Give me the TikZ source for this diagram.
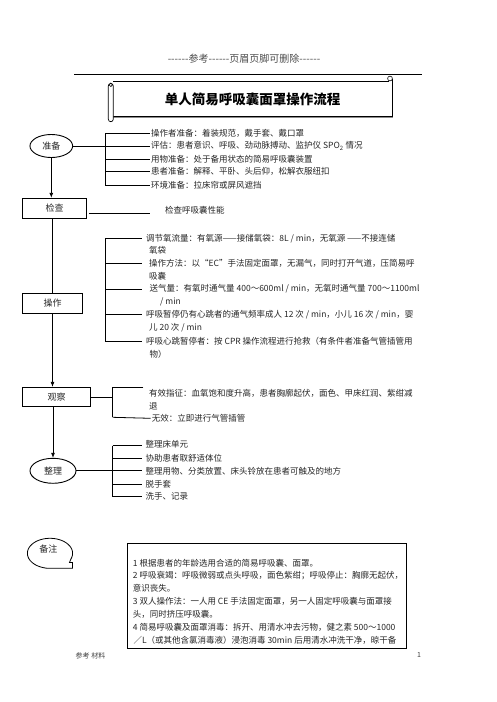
\documentclass[tikz,border=0pt]{standalone}
\usepackage{fontspec}
\newfontfamily\cjk{Noto Sans CJK SC}
\usetikzlibrary{arrows.meta,shapes.geometric}
\tikzset{
  ln/.style={line width=0.8pt, draw=black},
  arr/.style={ln, -{Latex[length=5pt,width=4pt]}},
  txt/.style={font=\cjk\fontsize{8.5}{10}\selectfont, anchor=west, inner xsep=1pt, inner ysep=1pt, text=black!85},
  lbl/.style={font=\cjk\fontsize{9}{10}\selectfont, text=black!85},
  stepbox/.style={draw, line width=0.9pt, lbl, inner sep=0pt},
  oval/.style={ellipse, draw, line width=0.9pt, lbl, inner sep=0pt},
}
\def\hy{\hbox{-}}
\def\hys{\hy\hy\hy\hy\hy\hy}
\begin{document}
\begin{tikzpicture}[x=1pt,y=-1pt]
\useasboundingbox (0,0) rectangle (496,702);
\fill[white] (0,0) rectangle (496,702);

% header
\node[font=\cjk\fontsize{10}{11}\selectfont, text=black!70] (hdr) at (244,58.3) {\hys 参考\hys 页眉页脚可删除\hys};
\coordinate (hl1) at (74,74);
\coordinate (hl2) at (421.7,74);
\draw[line width=0.8pt] (hl1) -- (hl2);

% title scroll
\fill[black!45] (113.3,116.5) rectangle (393,118.3);
\draw[line width=0.7pt] (113.3,81.7) -- (389,81.7);
\draw[line width=0.7pt] (392.7,79) -- (392.7,116.5) -- (113.3,116.5);
\draw[line width=0.7pt, rounded corners=2.5pt, fill=white] (108.3,83.5) rectangle (113.3,121.7);
\draw[line width=0.6pt] (110.8,84.8) circle (1.8);
\draw[line width=0.6pt, fill=white] (390,78.5) circle (2.4);
\node[font=\cjk\bfseries\fontsize{13.5}{15}\selectfont] (title) at (252.5,99) {单人简易呼吸囊面罩操作流程};

% ===== 准备
\node[oval, minimum width=42.7pt, minimum height=23pt] (prep) at (51.3,146) {准备};
\coordinate (pb1) at (105,133.3);
\coordinate (pb2) at (105,146);
\coordinate (pb3) at (105,159);
\coordinate (pb4) at (105,171.7);
\coordinate (pb5) at (105,185);
\node[txt] (p1) at (150,133.3) {操作者准备：着装规范，戴手套、戴口罩};
\node[txt] (p2) at (150,146) {评估：患者意识、呼吸、劲动脉搏动、监护仪 SPO\textsubscript{2} 情况};
\node[txt] (p3) at (150,159) {用物准备：处于备用状态的简易呼吸囊装置};
\node[txt] (p4) at (150,171.7) {患者准备：解释、平卧、头后仰，松解衣服纽扣};
\node[txt] (p5) at (150,185) {环境准备：拉床帘或屏风遮挡};
\draw[ln] (pb1) -- (pb5);
\draw[ln] (prep.east) -- (p2.west);
\draw[ln] (pb1) -- (p1.west);
\draw[ln] (pb3) -- (p3.west);
\draw[ln] (pb4) -- (p4.west);
\draw[ln] (pb5) -- (p5.west);

% ===== 检查
\node[stepbox, minimum width=64.4pt, minimum height=20pt] (check) at (54.5,208.3) {检查};
\draw[arr] (prep.south) -- (prep.south |- check.north);
\coordinate (ck1) at (89,213.3);
\coordinate (ck2) at (150,213.3);
\draw[ln] (ck1) -- (ck2);
\node[txt] (ckt) at (164,210.7) {检查呼吸囊性能};

% ===== 操作
\node[stepbox, minimum width=60.4pt, minimum height=20pt] (op) at (52.5,303.3) {操作};
\draw[ln] (op.north |- check.south) -- (op.north);
\coordinate (ob1) at (105,238.3);
\coordinate (ob2) at (105,263.3);
\coordinate (ob3) at (105,289);
\coordinate (ob4) at (105,314.3);
\coordinate (ob5) at (105,341.7);
\node[txt] (o1) at (145,238.3) {调节氧流量：有氧源——接储氧袋：8L / min，无氧源 ——不接连储};
\node[txt] (o1b) at (148,250.3) {氧袋};
\node[txt] (o2) at (148,263.3) {操作方法：以“EC”手法固定面罩，无漏气，同时打开气道，压简易呼};
\node[txt] (o2b) at (148,276) {吸囊};
\node[txt] (o3) at (148.5,289) {送气量：有氧时通气量 400～600ml / min，无氧时通气量 700～1100ml};
\node[txt] (o3b) at (159,302.3) {/ min};
\node[txt] (o4) at (145,314.3) {呼吸暂停仍有心跳者的通气频率成人 12 次 / min，小儿 16 次 / min，婴};
\node[txt] (o4b) at (148,327.3) {儿 20 次 / min};
\node[txt] (o5) at (145,341.7) {呼吸心跳暂停者：按 CPR 操作流程进行抢救（有条件者准备气管插管用};
\node[txt] (o5b) at (148.5,354) {物）};
\draw[ln] (ob1) -- (ob5);
\draw[ln, shorten >=3pt] (ob1) -- (o1.west);
\draw[ln, shorten >=6pt] (ob2) -- (o2.west);
\draw[ln, shorten >=6.5pt] (ob3) -- (o3.west);
\draw[ln, shorten >=3pt] (ob4) -- (o4.west);
\draw[ln, shorten >=3pt] (ob5) -- (o5.west);

% ===== 观察
\node[stepbox, minimum width=68.4pt, minimum height=19.4pt] (obs) at (56.5,397) {观察};
\draw[arr] (op.south) -- (op.south |- obs.north);
\coordinate (vb0) at (112.7,397);
\coordinate (vb1) at (112.7,387.3);
\coordinate (vb2) at (112.7,417.3);
\coordinate (vt1) at (143.3,387.3);
\draw[ln] (obs.east) -- (vb0);
\draw[ln] (vt1) -- (vb1) -- (vb2);
\node[txt] (e1) at (148,393.3) {有效指征：血氧饱和度升高，患者胸廓起伏，面色、甲床红润、紫绀减};
\node[txt] (e1b) at (148,406) {退};
\node[txt] (e2) at (150.7,418.3) {无效：立即进行气管插管};
\draw[ln] (vb2) -- (e2.west);

% ===== 整理
\node[oval, minimum width=46pt, minimum height=25pt] (tidy) at (53,470.8) {整理};
\draw[arr] (obs.south -| tidy.north) -- (tidy.north);
\coordinate (tb1) at (112.7,445.7);
\coordinate (tb2) at (112.7,458.3);
\coordinate (tb4) at (112.7,484);
\coordinate (tb5) at (112.7,496.7);
\node[txt] (t1) at (144.5,444.7) {整理床单元};
\node[txt] (t2) at (144.5,458.3) {协助患者取舒适体位};
\node[txt] (t3) at (144.5,470.8) {整理用物、分类放置、床头铃放在患者可触及的地方};
\node[txt] (t4) at (144.5,484) {脱手套};
\node[txt] (t5) at (144.5,496.7) {洗手、记录};
\draw[ln] (tb1) -- (tb5);
\draw[ln, shorten >=2.8pt] (tb1) -- (tb1 -| t1.west);
\draw[ln, shorten >=2.8pt] (tb2) -- (t2.west);
\draw[ln, shorten >=2.8pt] (tidy.east) -- (t3.west);
\draw[ln, shorten >=2.8pt] (tb4) -- (t4.west);
\draw[ln, shorten >=2.8pt] (tb5) -- (t5.west);

% ===== 备注
\draw[line width=0.8pt] (46.1,568.3) -- (72.5,568.3) -- (72.5,562.5) -- (69.5,562.5)
  -- plot[domain=-22:260, samples=80] ({50+22.6*cos(\x)},{553.3-15*sin(\x)}) -- cycle;
\node[lbl] (note) at (48.3,549.5) {备注};

\node[draw, line width=0.9pt, minimum width=278.4pt, minimum height=104.7pt, anchor=north west, inner sep=0pt] (nbox) at (127.3,543.3) {};
\node[txt] (n1) at (131.7,563.3) {1 根据患者的年龄选用合适的简易呼吸囊、面罩。};
\node[txt] (n2) at (131.7,575.7) {2 呼吸衰竭：呼吸微弱或点头呼吸，面色紫绀；呼吸停止：胸廓无起伏，};
\node[txt] (n3) at (131.7,588.3) {意识丧失。};
\node[txt] (n4) at (131.7,601.7) {3 双人操作法：一人用 CE 手法固定面罩，另一人固定呼吸囊与面罩接};
\node[txt] (n5) at (131.7,614.3) {头，同时挤压呼吸囊。};
\node[txt] (n6) at (131.7,627.7) {4 简易呼吸囊及面罩消毒：拆开、用清水冲去污物，健之素 500～1000};
\node[txt] (n7) at (132.3,640.3) {／L（或其他含氯消毒液）浸泡消毒 30min 后用清水冲洗干净，晾干备};

% footer
\node[font=\cjk\fontsize{7}{8}\selectfont, text=black!75, anchor=west, inner sep=0pt] (ft1) at (75.5,655.7) {参考 材料};
\node[font=\cjk\fontsize{7}{8}\selectfont, text=black!75, inner sep=0pt] (ft2) at (419,655) {1};
\end{tikzpicture}
\end{document}
